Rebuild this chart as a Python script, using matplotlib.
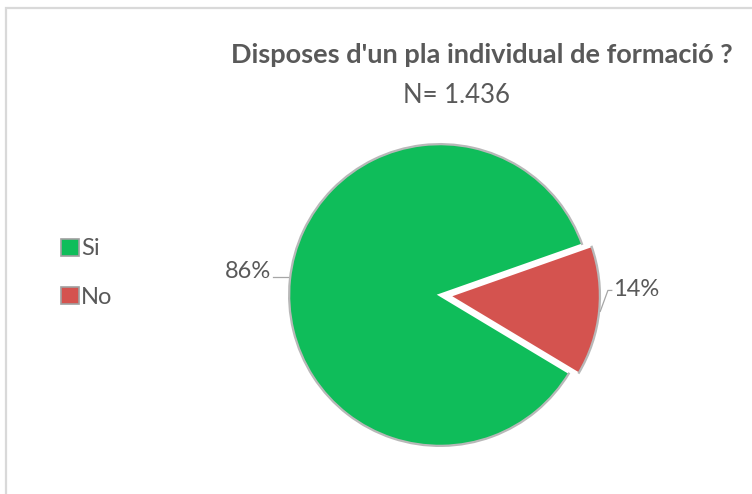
import numpy as np
import matplotlib.pyplot as plt
from matplotlib.patches import Rectangle, Wedge

# Dades
categories = ['Si', 'No']
valors = [86, 14]
etiquetes = ['86%', '14%']
colors = ['#0FBD5A', '#D4534F']
titol = "Disposes d'un pla individual de formació ?"
subtitol = 'N= 1.436'

plt.rcParams['font.family'] = ['Lato', 'DejaVu Sans']
gris = '#595959'

fig = plt.figure(figsize=(7.52, 4.94), dpi=100)

# Marc del gràfic
fig.patches.append(Rectangle((6 / 752, -0.1), 1.2, (494 - 8) / 494 + 0.1,
                             transform=fig.transFigure, fill=False,
                             edgecolor='#D9D9D9', linewidth=1.6))

# Pastís centrat a (440, 295) px, radi 152 px
cx, cy, R = 440, 295, 152
ax = fig.add_axes([(cx - R) / 752, (494 - cy - R) / 494, 2 * R / 752, 2 * R / 494])
wedges, _ = ax.pie(valors, colors=colors, startangle=-31, counterclock=False,
                   explode=[0, 0.06],
                   wedgeprops=dict(edgecolor='white', linewidth=2))
for w in wedges:
    w.set_clip_on(False)
    # contorn gris exterior
    ax.add_patch(Wedge(w.center, 1.0, w.theta1, w.theta2, width=0.015,
                       facecolor='#B8B8B8', edgecolor='none', clip_on=False))
ax.set_xlim(-1, 1)
ax.set_ylim(-1, 1)
ax.set_aspect('equal')
ax.axis('off')

# Etiquetes de percentatge amb línies guia
for w, txt in zip(wedges, etiquetes):
    ang = np.deg2rad((w.theta1 + w.theta2) / 2)
    x0, y0 = w.center[0] + np.cos(ang), w.center[1] + np.sin(ang)
    if np.cos(ang) < 0:
        ax.plot([-1.1, -1.0], [0.12, 0.12], color='#A6A6A6', lw=0.9, clip_on=False)
        ax.text(-1.11, 0.155, txt, ha='right', va='center', fontsize=17, color=gris)
    else:
        ax.plot([x0, x0 + 0.05, 1.13], [y0, 0.03, 0.03], color='#A6A6A6', lw=0.9, clip_on=False)
        ax.text(1.14, 0.035, txt, ha='left', va='center', fontsize=17, color=gris)

# Títol
fig.text(482 / 752, 1 - 63 / 494, titol, ha='center', va='baseline',
         fontsize=19.5, fontweight='bold', color=gris)
fig.text(456 / 752, 1 - 103 / 494, subtitol, ha='center', va='baseline',
         fontsize=18.5, color=gris)

# Llegenda
leg = fig.legend(wedges, categories, loc='center left',
                 bbox_to_anchor=(40 / 752, 1 - 273 / 494), frameon=False,
                 fontsize=17, labelcolor=gris, handlelength=0.75, handleheight=0.75,
                 handletextpad=0.1, labelspacing=1.15)
for h in leg.legend_handles:
    h.set_edgecolor('#A0A0A0')
    h.set_linewidth(1.2)

fig.savefig('out.png', dpi=100)
